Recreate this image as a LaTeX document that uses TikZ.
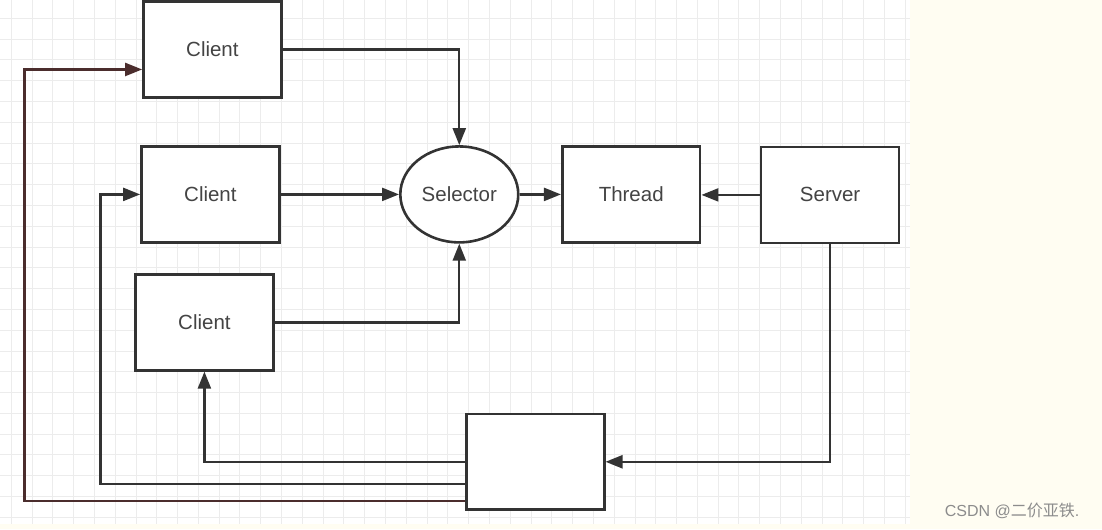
\documentclass[tikz,border=0pt]{standalone}
\usepackage{fontspec}
\setmainfont{Liberation Sans}
\newfontfamily\cjkfont{Noto Sans CJK SC}
\usetikzlibrary{shapes, arrows.meta, positioning, calc}
\definecolor{ink}{RGB}{51, 51, 51}
\definecolor{txtgray}{RGB}{68, 68, 68}
\definecolor{gridminor}{RGB}{236, 236, 236}
\definecolor{paper}{RGB}{255, 253, 242}
\definecolor{brownline}{RGB}{75, 45, 45}

\tikzset{
  box/.style={draw=ink, line width=2.6pt, fill=white, minimum width=138pt, minimum height=96pt,
    inner sep=0pt, text=txtgray, font=\fontsize{20.5}{24}\selectfont},
  oval/.style={box, ellipse, minimum width=118pt, minimum height=96pt},
  arr/.style={draw=ink, line width=2.3pt, -{Triangle[length=17pt, width=13pt]}},
}

\begin{document}
\begin{tikzpicture}[x=1pt, y=-1pt]
  % background and grid
  \fill[paper] (0,0) rectangle (1102,529);
  \fill[white] (0,0) rectangle (910,524);
  \foreach \i in {0,...,43} {
    \pgfmathsetmacro{\gx}{10.8+20.8*\i}
    \draw[gridminor, line width=1pt] (\gx,0) -- (\gx,524);
  }
  \foreach \j in {0,...,24} {
    \pgfmathsetmacro{\gy}{17.9+20.8*\j}
    \draw[gridminor, line width=1pt] (0,\gy) -- (910,\gy);
  }

  % nodes
  \node[box] (client1) at (212,49) {Client};
  \node[box] (client2) at (210,194) {Client};
  \node[box] (client3) at (204,322) {Client};
  \node[oval] (selector) at (459,194) {Selector};
  \node[box] (thread) at (631,194) {Thread};
  \node[box] (server) at (830,194.5) {Server};
  \node[box] (hub) at (535,461.5) {};

  \coordinate (turn2) at (100,484);
  \coordinate (turn3) at (24,501);

  % connectors
  \draw[arr] (client1.east) -| (selector.north);
  \draw[arr] (client2) -- (selector);
  \draw[arr] (client3.east) -| (selector.south);
  \draw[arr] (selector) -- (thread);
  \draw[arr] (server.west) -- (thread.east |- server.west);
  \draw[arr] (server.south) |- (hub.east);
  \draw[arr] (hub.west) -| (client3.south);
  \draw[arr] (hub.west |- turn2) -- (turn2) |- (client2.west);
  \draw[arr, draw=brownline] (hub.west |- turn3) -- (turn3) |- ([yshift=-20pt]client1.west);

  % watermark
  \node[text=black!45, font=\fontsize{16}{18}\selectfont] (mark) at (1012,511) {CSDN @{\cjkfont 二价亚铁}.};
\end{tikzpicture}
\end{document}
